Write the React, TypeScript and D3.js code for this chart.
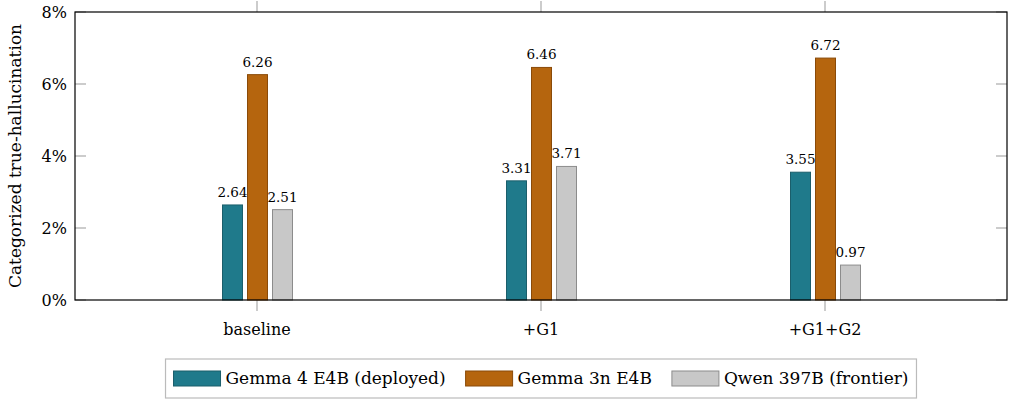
import React, { useEffect, useRef } from 'react'
import * as d3 from 'd3'

const categories = ['baseline', '+G1', '+G1+G2']
const seriesNames = ['Gemma 4 E4B (deployed)', 'Gemma 3n E4B', 'Qwen 397B (frontier)']
const gemma4 = [2.64, 3.31, 3.55]
const gemma3n = [6.26, 6.46, 6.72]
const qwen = [2.51, 3.71, 0.97]
const yTicks = [0, 2, 4, 6, 8]
const yLabel = 'Categorized true-hallucination'

const fills = ['#1f7a8b', '#b5650e', '#c8c8c8']
const strokes = ['#1b5e6b', '#8a4a08', '#8c8c8c']
const FONT = 'DejaVu Serif'

export default function App() {
  const ref = useRef<SVGSVGElement>(null)

  useEffect(() => {
    const W = 1010, H = 401
    const m = { left: 75, right: 3, top: 12, bottom: 101 }
    const svg = d3.select(ref.current)
    svg.selectAll('*').remove()

    const x0 = m.left, x1 = W - m.right, y0 = H - m.bottom, y1 = m.top
    const step = 284
    const pad = ((x1 - x0) / step - (categories.length - 1)) / 2
    const x = d3.scaleLinear().domain([-pad, categories.length - 1 + pad]).range([x0, x1])
    const y = d3.scaleLinear().domain([0, 8]).range([y0, y1])

    const series = [gemma4, gemma3n, qwen]
    const barW = 20, shift = 25

    // y ticks (inside, both sides)
    const g = svg.append('g')
    yTicks.forEach(t => {
      g.append('line').attr('x1', x0).attr('x2', x0 + 11).attr('y1', y(t)).attr('y2', y(t))
        .attr('stroke', '#999').attr('stroke-width', 1)
      g.append('line').attr('x1', x1 - 11).attr('x2', x1).attr('y1', y(t)).attr('y2', y(t))
        .attr('stroke', '#999').attr('stroke-width', 1)
      g.append('text').attr('x', x0 - 8).attr('y', y(t)).attr('dy', '0.35em')
        .attr('text-anchor', 'end').attr('font-size', 16).attr('font-family', FONT)
        .text(`${t}%`)
    })

    // x ticks (outside, top and bottom)
    categories.forEach((c, i) => {
      g.append('line').attr('x1', x(i)).attr('x2', x(i)).attr('y1', y0).attr('y2', y0 + 11)
        .attr('stroke', '#999')
      g.append('line').attr('x1', x(i)).attr('x2', x(i)).attr('y1', y1 - 11).attr('y2', y1)
        .attr('stroke', '#999')
      g.append('text').attr('x', x(i)).attr('y', y0 + 35).attr('text-anchor', 'middle')
        .attr('font-size', 16).attr('font-family', FONT).text(c)
    })

    // bars + value labels
    series.forEach((vals, s) => {
      const off = (s - 1) * shift
      vals.forEach((v, i) => {
        const cx = x(i) + off
        svg.append('rect').attr('x', cx - barW / 2 + 0.5).attr('y', y(v)).attr('width', barW)
          .attr('height', y(0) - y(v)).attr('fill', fills[s]).attr('stroke', strokes[s])
          .attr('stroke-width', 1)
        svg.append('text').attr('x', cx + 0.5).attr('y', y(v) - 8).attr('text-anchor', 'middle')
          .attr('font-size', 13.5).attr('font-family', FONT).text(v.toFixed(2))
      })
    })

    // frame
    svg.append('rect').attr('x', x0).attr('y', y1).attr('width', x1 - x0).attr('height', y0 - y1)
      .attr('fill', 'none').attr('stroke', '#000').attr('stroke-width', 1.2)

    // y label
    svg.append('text').attr('transform', `translate(21,${(y0 + y1) / 2}) rotate(-90)`)
      .attr('text-anchor', 'middle').attr('font-size', 17).attr('font-family', FONT).text(yLabel)

    // legend, centred under the plot
    const lg = svg.append('g')
    const swW = 47, swH = 15, gapText = 5, gapItem = 20, padX = 8
    let cur = padX
    seriesNames.forEach((name, s) => {
      const sx = cur
      const t = lg.append('text').attr('x', sx + swW + gapText).attr('y', 0).attr('dy', '0.35em')
        .attr('font-size', 17).attr('font-family', FONT).text(name)
      const tw = (t.node() as SVGTextElement).getComputedTextLength()
      lg.append('rect').attr('x', sx).attr('y', -swH / 2).attr('width', swW).attr('height', swH)
        .attr('fill', fills[s]).attr('stroke', strokes[s])
      cur = sx + swW + gapText + tw + gapItem
    })
    const totalW = cur - gapItem + padX
    const cxPlot = (x0 + x1) / 2
    lg.insert('rect', ':first-child').attr('x', 0).attr('y', -19.5).attr('width', totalW).attr('height', 39)
      .attr('fill', 'white').attr('stroke', '#bbb').attr('stroke-width', 1.2)
    lg.attr('transform', `translate(${cxPlot - totalW / 2},${378.5})`)
  }, [])

  return (
    <svg ref={ref} width={1010} height={401}
      style={{ position: 'absolute', left: 0, top: 0, background: 'white' }} />
  )
}
